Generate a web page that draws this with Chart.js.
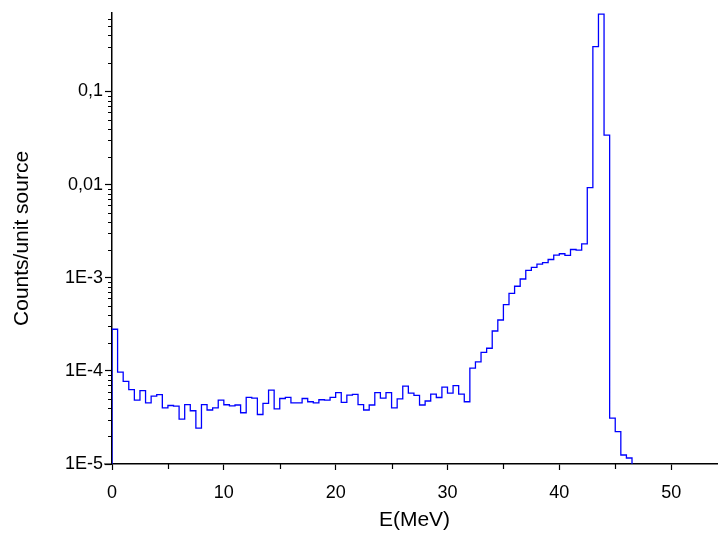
<!DOCTYPE html>
<html>
<head>
<meta charset="utf-8">
<script src="https://cdn.jsdelivr.net/npm/chart.js@4.4.1/dist/chart.umd.min.js"></script>
<style>
  html, body { margin: 0; padding: 0; background: #fff; }
  #wrap { width: 720px; height: 540px; }
</style>
</head>
<body>
<div id="wrap"><canvas id="myChart" width="720" height="540"></canvas></div>
<script>
// energy bins in MeV
const binStart = 0;
const binWidth = 0.5;
// counts per unit source, one value per bin
const counts = [
  2.8e-4, 9.7e-5, 7.7e-5, 6.3e-5, 4.85e-5, 6.15e-5, 4.54e-5, 5.35e-5, 5.57e-5, 4.0e-5,
  4.25e-5, 4.18e-5, 3.03e-5, 4.35e-5, 3.73e-5, 2.43e-5, 4.35e-5, 3.8e-5, 4.0e-5, 4.85e-5,
  4.33e-5, 4.2e-5, 4.3e-5, 3.55e-5, 5.2e-5, 5.1e-5, 3.4e-5, 4.47e-5, 6.2e-5, 3.9e-5,
  5.05e-5, 5.2e-5, 4.54e-5, 4.54e-5, 5.05e-5, 4.66e-5, 4.54e-5, 4.9e-5, 4.85e-5, 5.2e-5,
  5.85e-5, 4.6e-5, 5.5e-5, 5.6e-5, 4.35e-5, 3.8e-5, 4.3e-5, 5.85e-5, 5.1e-5, 5.85e-5,
  4.0e-5, 5.0e-5, 6.86e-5, 5.77e-5, 5.45e-5, 4.3e-5, 4.75e-5, 5.63e-5, 5.18e-5, 6.68e-5,
  5.77e-5, 6.96e-5, 5.63e-5, 4.66e-5, 1.07e-4, 1.25e-4, 1.58e-4, 1.75e-4, 2.68e-4, 3.52e-4,
  5.14e-4, 6.8e-4, 8.1e-4, 9.7e-4, 1.2e-3, 1.29e-3, 1.4e-3, 1.45e-3, 1.57e-3, 1.75e-3,
  1.81e-3, 1.74e-3, 2.01e-3, 1.98e-3, 2.31e-3, 9.3e-3, 0.304, 0.676, 0.034, 3.11e-5,
  2.23e-5, 1.25e-5, 1.16e-5
];
const yMin = 1e-5;
const yMax = 0.7;
const xMin = 0;
const xMax = 54.1;

const xTicks = [0, 10, 20, 30, 40, 50];
const xMinorTicks = [5, 15, 25, 35, 45];
const yTicks = [1e-5, 1e-4, 1e-3, 1e-2, 1e-1];
const yTickLabels = ['1E-5', '1E-4', '1E-3', '0,01', '0,1'];

// step outline: up from the axis, one level per bin, back down to the axis
const points = [{x: binStart, y: yMin}];
counts.forEach((c, i) => points.push({x: binStart + i * binWidth, y: c}));
points.push({x: binStart + counts.length * binWidth, y: yMin});

const family = "'Liberation Sans', Arial, sans-serif";
const tickFont = {family: family, size: 18};
const titleFont = {family: family, size: 21};

// minor tick marks (Origin style)
const minorTicks = {
  id: 'minorTicks',
  afterDraw(chart) {
    const c = chart.ctx;
    const xs = chart.scales.x, ys = chart.scales.y;
    c.save();
    c.strokeStyle = '#000';
    c.lineWidth = 1.2;
    c.beginPath();
    for (let d = -5; d <= 0; d++) {
      for (let m = 2; m <= 9; m++) {
        const v = m * Math.pow(10, d);
        if (v > yMax) continue;
        const py = Math.round(ys.getPixelForValue(v)) + 0.5;
        c.moveTo(xs.left - 4, py);
        c.lineTo(xs.left, py);
      }
    }
    xMinorTicks.forEach(v => {
      const px = Math.round(xs.getPixelForValue(v)) + 0.5;
      c.moveTo(px, ys.bottom);
      c.lineTo(px, ys.bottom + 5);
    });
    // x axis runs a little past the y axis on the left
    c.moveTo(xs.left - 8, ys.bottom);
    c.lineTo(xs.left, ys.bottom);
    c.stroke();
    c.restore();
  }
};

const ctx = document.getElementById('myChart').getContext('2d');
const config = {
  type: 'line',
  data: {
    datasets: [{
      data: points,
      stepped: 'before',
      borderColor: '#0000ff',
      borderWidth: 1.3,
      pointRadius: 0,
      fill: false
    }]
  },
  options: {
    responsive: false,
    animation: false,
    parsing: false,
    layout: {padding: {top: 12, right: 3, left: 0, bottom: 0}},
    plugins: {legend: {display: false}, tooltip: {enabled: false}},
    scales: {
      x: {
        type: 'linear',
        min: xMin,
        max: xMax,
        afterBuildTicks: s => { s.ticks = xTicks.map(v => ({value: v})); },
        afterFit: s => { s.height = 76; },
        grid: {drawOnChartArea: false, drawTicks: true, tickLength: 6, tickColor: '#000', tickWidth: 1.2},
        border: {display: true, color: '#000', width: 1.5},
        ticks: {color: '#000', font: tickFont, padding: 12, maxRotation: 0},
        title: {display: true, text: 'E(MeV)', color: '#000',
                font: titleFont, padding: {top: 0, bottom: 7}}
      },
      y: {
        type: 'logarithmic',
        min: yMin,
        max: yMax,
        afterBuildTicks: s => { s.ticks = yTicks.map(v => ({value: v})); },
        afterFit: s => { s.width = 112; },
        grid: {drawOnChartArea: false, drawTicks: true, tickLength: 7, tickColor: '#000', tickWidth: 1.2},
        border: {display: true, color: '#000', width: 1.5},
        ticks: {
          color: '#000', font: tickFont, padding: 2,
          callback: v => {
            const i = yTicks.findIndex(t => Math.abs(t - v) / t < 1e-6);
            return i >= 0 ? yTickLabels[i] : '';
          }
        },
        title: {display: true, text: 'Counts/unit source', color: '#000',
                font: titleFont, padding: {top: 10, bottom: 0}}
      }
    }
  },
  plugins: [minorTicks]
};

var myChart = new Chart(ctx, config);
</script>
</body>
</html>
